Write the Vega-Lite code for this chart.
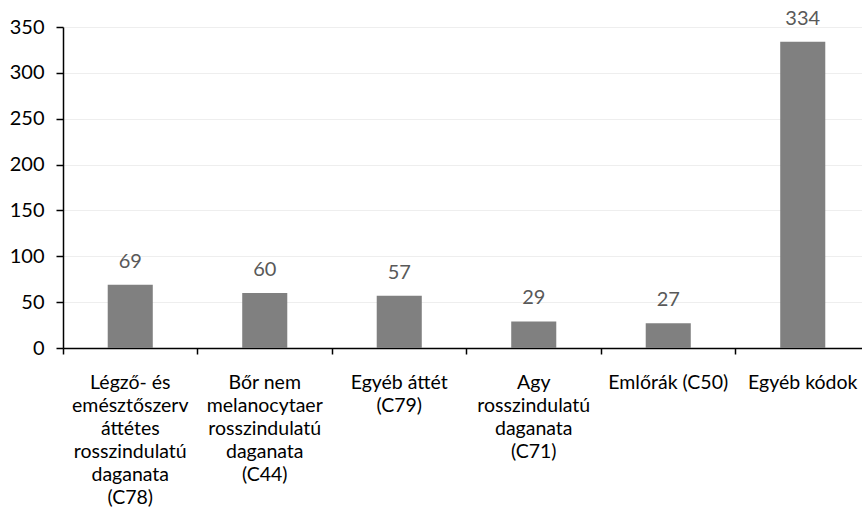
{
  "$schema": "https://vega.github.io/schema/vega-lite/v6.json",
  "autosize": "none",
  "width": 799,
  "height": 321,
  "padding": {"left": 63, "top": 27, "right": 0, "bottom": 177},
  "background": "white",
  "config": {"view": {"stroke": null}, "font": "Lato"},
  "data": {
    "values": [
      {"kategoria": "Légző- és emésztőszerv áttétes rosszindulatú daganata (C78)", "ertek": 69},
      {"kategoria": "Bőr nem melanocytaer rosszindulatú daganata (C44)", "ertek": 60},
      {"kategoria": "Egyéb áttét (C79)", "ertek": 57},
      {"kategoria": "Agy rosszindulatú daganata (C71)", "ertek": 29},
      {"kategoria": "Emlőrák (C50)", "ertek": 27},
      {"kategoria": "Egyéb kódok", "ertek": 334}
    ]
  },
  "encoding": {
    "x": {
      "field": "kategoria",
      "type": "nominal",
      "sort": null,
      "scale": {"paddingInner": 0, "paddingOuter": 0, "range": [0, 807]},
      "axis": {
        "title": null,
        "labelAngle": 0,
        "bandPosition": 0,
        "labelFont": "Lato",
        "labelFontSize": 19.5,
        "labelColor": "#000000",
        "labelLineHeight": 23,
        "labelPadding": 19,
        "labelLimit": 200,
        "labelAlign": "center",
        "labelBaseline": "top",
        "labelOffset": 0,
        "labelOverlap": false,
        "labelBound": false,
        "domainColor": "#000000",
        "domainWidth": 1.5,
        "tickColor": "#000000",
        "tickWidth": 1.5,
        "tickSize": 6,
        "grid": false,
        "labelExpr": "datum.value == 'Légző- és emésztőszerv áttétes rosszindulatú daganata (C78)' ? ['Légző- és', 'emésztőszerv', 'áttétes', 'rosszindulatú', 'daganata', '(C78)'] : datum.value == 'Bőr nem melanocytaer rosszindulatú daganata (C44)' ? ['Bőr nem', 'melanocytaer', 'rosszindulatú', 'daganata', '(C44)'] : datum.value == 'Egyéb áttét (C79)' ? ['Egyéb áttét', '(C79)'] : datum.value == 'Agy rosszindulatú daganata (C71)' ? ['Agy', 'rosszindulatú', 'daganata', '(C71)'] : datum.value"
      }
    },
    "y": {
      "field": "ertek",
      "type": "quantitative",
      "scale": {"domain": [0, 350], "nice": false},
      "axis": {
        "title": null,
        "values": [0, 50, 100, 150, 200, 250, 300, 350],
        "labelFont": "Lato",
        "labelFontSize": 20,
        "labelColor": "#000000",
        "labelPadding": 12,
        "domainColor": "#000000",
        "domainWidth": 1.5,
        "tickColor": "#000000",
        "tickWidth": 1.5,
        "tickSize": 7,
        "grid": true,
        "gridColor": "#eeeeee",
        "gridWidth": 1
      }
    }
  },
  "layer": [
    {"mark": {"type": "bar", "color": "#808080", "width": {"band": 0.335}}},
    {
      "mark": {"type": "text", "baseline": "alphabetic", "dy": -17, "fontSize": 20, "color": "#595959", "font": "Lato"},
      "encoding": {"text": {"field": "ertek", "type": "quantitative"}}
    }
  ]
}
